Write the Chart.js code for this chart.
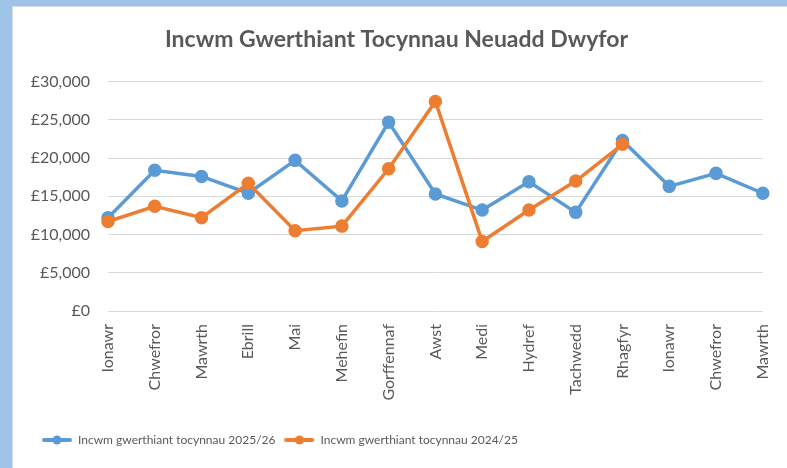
<!DOCTYPE html>
<html>
<head>
<meta charset="utf-8">
<script src="https://cdn.jsdelivr.net/npm/chart.js@4/dist/chart.umd.min.js"></script>
<style>
    html, body { margin: 0; padding: 0; background: #9dc3e6; }
    body { width: 787px; height: 468px; overflow: hidden; position: relative; }
    .frame {
        position: absolute; left: 12px; top: 6px; width: 775px; height: 462px;
        background: #fff; box-shadow: inset 1px 1px 0 #d6dde5;
    }
    canvas { display: block; }
</style>
</head>
<body>
<div class="frame"><canvas id="chart" width="775" height="462"></canvas></div>
<script>
// ── Data ──
const months = ['Ionawr', 'Chwefror', 'Mawrth', 'Ebrill', 'Mai', 'Mehefin', 'Gorffennaf',
                'Awst', 'Medi', 'Hydref', 'Tachwedd', 'Rhagfyr', 'Ionawr', 'Chwefror', 'Mawrth'];
const income2526 = [12200, 18400, 17600, 15400, 19700, 14400, 24700, 15300, 13200, 16900, 12900, 22300, 16300, 18000, 15400];
const income2425 = [11700, 13700, 12200, 16700, 10500, 11100, 18600, 27400, 9100, 13200, 17000, 21800, null, null, null];
const yTicks     = [0, 5000, 10000, 15000, 20000, 25000, 30000];

const BLUE   = '#5b9bd5';
const ORANGE = '#ed7d31';
const GREY   = '#595959';
const FONT   = 'Lato, "Liberation Sans", sans-serif';

// ── Legend marker: short line with a dot ──
function legendMarker(color) {
    const c = document.createElement('canvas');
    c.width = 30; c.height = 12;
    const g = c.getContext('2d');
    g.strokeStyle = color; g.lineWidth = 4; g.lineCap = 'round';
    g.beginPath(); g.moveTo(2, 6); g.lineTo(28, 6); g.stroke();
    g.fillStyle = color;
    g.beginPath(); g.arc(15, 6, 4.5, 0, Math.PI * 2); g.fill();
    return c;
}

// nudge legend to the left-start position of the original
const legendShift = {
    id: 'legendShift',
    afterLayout(chart) { if (chart.legend) chart.legend.left += 21; },
};

new Chart(document.getElementById('chart'), {
    type: 'line',
    plugins: [legendShift],
    data: {
        labels: months,
        datasets: [
            {
                label: 'Incwm gwerthiant tocynnau 2025/26',
                data: income2526,
                borderColor: BLUE, backgroundColor: BLUE,
                borderWidth: 3.5, pointRadius: 5, pointHoverRadius: 5,
                tension: 0, order: 2,
            },
            {
                label: 'Incwm gwerthiant tocynnau 2024/25',
                data: income2425,
                borderColor: ORANGE, backgroundColor: ORANGE,
                borderWidth: 3.5, pointRadius: 5, pointHoverRadius: 5,
                tension: 0, order: 1,
            },
        ],
    },
    options: {
        responsive: false,
        animation: false,
        layout: { padding: { left: 0, right: 6, top: 0, bottom: 12 } },
        elements: { point: { pointStyle: 'circle' } },
        plugins: {
            title: {
                display: true,
                text: 'Incwm Gwerthiant Tocynnau Neuadd Dwyfor',
                color: GREY,
                font: { family: FONT, size: 23, weight: 'bold' },
                padding: { top: 20, bottom: 28 },
            },
            legend: {
                position: 'bottom',
                align: 'start',
                labels: {
                    color: GREY,
                    font: { family: FONT, size: 12 },
                    usePointStyle: true,
                    pointStyleWidth: 30,
                    padding: 9,
                    generateLabels: (chart) => chart.data.datasets.map((ds, i) => ({
                        text: ds.label,
                        fontColor: GREY,
                        pointStyle: legendMarker(ds.borderColor),
                        datasetIndex: i,
                        lineWidth: 0,
                    })),
                },
            },
            tooltip: { enabled: false },
        },
        scales: {
            x: {
                grid: { display: false },
                border: { display: false },
                ticks: {
                    color: GREY,
                    font: { family: FONT, size: 16 },
                    minRotation: 90, maxRotation: 90,
                    padding: 5,
                    autoSkip: false,
                },
                afterFit: (scale) => { scale.height = 114; },
            },
            y: {
                min: 0, max: 30000,
                afterBuildTicks: (scale) => { scale.ticks = yTicks.map(v => ({ value: v })); },
                grid: { color: '#d9d9d9', lineWidth: 1, drawTicks: false },
                border: { display: false },
                ticks: {
                    color: GREY,
                    font: { family: FONT, size: 16 },
                    padding: 18,
                    callback: (v) => '£' + v.toLocaleString('en-GB'),
                },
                afterFit: (scale) => { scale.width = 96; },
            },
        },
    },
});
</script>
</body>
</html>
